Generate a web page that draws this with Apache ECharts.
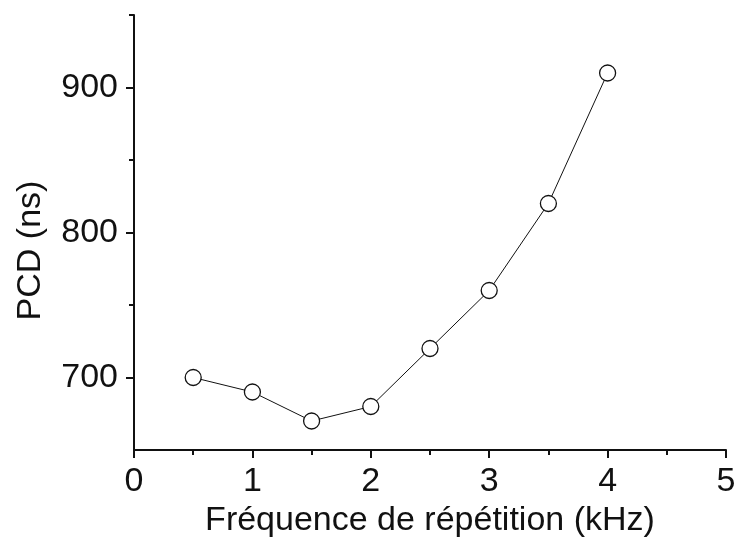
<!DOCTYPE html>
<html>
<head>
<meta charset="utf-8">
<script src="https://cdn.jsdelivr.net/npm/echarts@6/dist/echarts.min.js"></script>
<style>
  html, body { margin: 0; padding: 0; background: #fff; }
  #chart { width: 737px; height: 540px; }
</style>
</head>
<body>
<div id="chart"></div>
<script>
var freqs = [0.5, 1, 1.5, 2, 2.5, 3, 3.5, 4];
var pcd = [700, 690, 670, 680, 720, 760, 820, 910];
var yMajor = [700, 800, 900];
var yMinor = [750, 850, 950];

var chart = echarts.init(document.getElementById('chart'));
var ink = '#111';
var font = 'Liberation Sans, Arial, sans-serif';

// extra left axes only carry tick marks (major / minor)
function tickAxis(values, len) {
    return {
        type: 'value',
        min: 650,
        max: 950,
        position: 'left',
        axisLine: { show: false },
        axisTick: { show: true, length: len, customValues: values, lineStyle: { color: ink, width: 2 } },
        axisLabel: { show: false },
        splitLine: { show: false }
    };
}

var option = {
    animation: false,
    grid: { left: 134, right: 11, top: 15, bottom: 90, containLabel: false, outerBoundsMode: 'none' },
    xAxis: {
        type: 'value',
        min: 0,
        max: 5,
        interval: 1,
        name: 'Fréquence de répétition (kHz)',
        nameLocation: 'middle',
        nameGap: 54,
        nameTextStyle: { fontSize: 34, color: ink, fontFamily: font },
        axisLine: { show: true, onZero: false, lineStyle: { color: ink, width: 2 } },
        axisTick: { show: true, length: 8, lineStyle: { color: ink, width: 2 } },
        minorTick: { show: true, splitNumber: 2, length: 5, lineStyle: { color: ink, width: 2 } },
        axisLabel: { fontSize: 34, color: ink, fontFamily: font, margin: 15 },
        splitLine: { show: false }
    },
    yAxis: [{
        type: 'value',
        min: 650,
        max: 950,
        position: 'left',
        name: 'PCD (ns)',
        nameLocation: 'middle',
        nameGap: 86,
        nameTextStyle: { fontSize: 34, color: ink, fontFamily: font, padding: [0, 36, 0, 0] },
        axisLine: { show: true, lineStyle: { color: ink, width: 2 } },
        axisTick: { show: false },
        axisLabel: { fontSize: 34, color: ink, fontFamily: font, margin: 16, customValues: yMajor },
        splitLine: { show: false }
    }, tickAxis(yMajor, 8), tickAxis(yMinor, 5)],
    series: [{
        type: 'line',
        yAxisIndex: 0,
        data: freqs.map(function (f, i) { return [f, pcd[i]]; }),
        symbol: 'circle',
        symbolSize: 16,
        lineStyle: { color: ink, width: 1 },
        itemStyle: { color: '#fff', borderColor: ink, borderWidth: 1.3 }
    }]
};

chart.setOption(option);
</script>
</body>
</html>
